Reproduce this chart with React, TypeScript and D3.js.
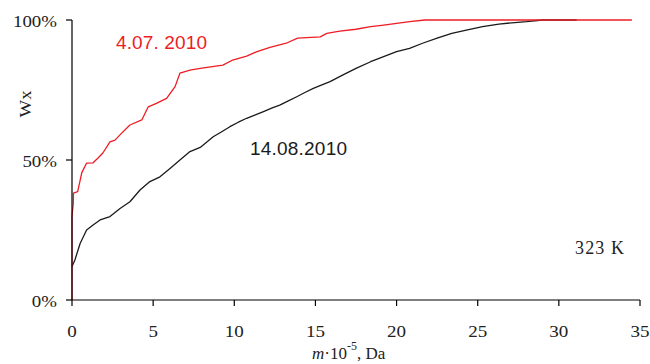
import React from "react";
import * as d3 from "d3";

const xTicks = [0, 5, 10, 15, 20, 25, 30, 35];
const yTicks = [0, 50, 100];
const yTickLabels = ["0%", "50%", "100%"];

// 4.07.2010 (red)
const redMass = [0, 0, 0.08, 0.09, 0.35, 0.6, 0.9, 1.3, 1.62, 1.9, 2.34, 2.65, 3.06, 3.57, 4.3, 4.7, 5.2, 5.83, 6.35, 6.65, 7.27, 7.9, 9.3, 9.9, 10.76, 11.4, 12.2, 13.2, 13.9, 15.3, 15.7, 16.5, 17.5, 18.4, 19.2, 20.0, 20.8, 21.75, 34.5];
const redW = [0, 29.8, 34.6, 38.2, 38.7, 45.4, 48.9, 49.0, 50.8, 52.5, 56.5, 57.1, 59.6, 62.5, 64.3, 69.0, 70.2, 72.0, 76.2, 81.0, 82.1, 82.7, 83.9, 85.7, 87.1, 88.7, 90.2, 91.7, 93.5, 94.0, 95.2, 96.0, 96.7, 97.6, 98.2, 98.8, 99.4, 100, 100];

// 14.08.2010 (black)
const blackMass = [0, 0.18, 0.5, 0.9, 1.3, 1.73, 2.34, 2.96, 3.57, 4.19, 4.8, 5.42, 6.04, 6.65, 7.27, 7.9, 8.7, 9.2, 9.73, 10.25, 10.76, 11.3, 11.8, 12.3, 12.8, 13.3, 13.85, 14.35, 14.87, 15.4, 15.9, 16.7, 17.5, 18.4, 19.2, 20.0, 20.8, 21.6, 22.5, 23.4, 24.3, 25.3, 26.3, 27.1, 28.0, 29.0, 31.1];
const blackW = [12.0, 14.3, 20.2, 25.0, 26.8, 28.6, 29.8, 32.7, 35.1, 39.3, 42.3, 44.0, 47.0, 50.0, 53.0, 54.5, 58.3, 60.0, 61.9, 63.5, 64.9, 66.1, 67.3, 68.5, 69.6, 71.0, 72.6, 74.1, 75.6, 76.8, 78.0, 80.4, 82.7, 85.1, 86.9, 88.7, 89.9, 91.7, 93.5, 95.2, 96.4, 97.6, 98.5, 99.0, 99.4, 100, 100];

export default function App() {
  const x = d3.scaleLinear().domain([0, 35]).range([72, 640]);
  const y = d3.scaleLinear().domain([0, 100]).range([300, 20]);
  const line = d3
    .line<[number, number]>()
    .x((d) => x(d[0]))
    .y((d) => y(d[1]))
    .curve(d3.curveLinear);
  const redPts = redMass.map((m, i) => [m, redW[i]] as [number, number]);
  const blackPts = blackMass.map((m, i) => [m, blackW[i]] as [number, number]);
  const serif = "'Liberation Serif', 'Times New Roman', serif";
  const sans = "'Liberation Sans', Arial, sans-serif";

  return (
    <svg
      width={650}
      height={364}
      style={{ position: "absolute", left: 0, top: 0, background: "#fff" }}
    >
      <rect width={650} height={364} fill="#fff" />
      <path d={line(blackPts) || ""} fill="none" stroke="#1a1a1a" strokeWidth={1.3} strokeLinejoin="round" />
      <path d={line(redPts) || ""} fill="none" stroke="#ee1c24" strokeWidth={1.3} strokeLinejoin="round" />
      <line x1={x(0)} x2={x(0)} y1={y(100)} y2={y(0)} stroke="#000" strokeWidth={1.2} />
      <line x1={x(0)} x2={x(35)} y1={y(0)} y2={y(0)} stroke="#000" strokeWidth={1.2} />
      {yTicks.map((t, i) => (
        <g key={"yt" + t}>
          <line x1={x(0) - 6} x2={x(0)} y1={y(t)} y2={y(t)} stroke="#000" strokeWidth={1.2} />
          <text
            transform={`translate(57,${y(t) + 6.5}) scale(1.18,1)`}
            textAnchor="end"
            fontFamily={serif}
            fontSize={16}
            fill="#222"
          >
            {yTickLabels[i]}
          </text>
        </g>
      ))}
      {xTicks.map((t) => (
        <g key={"xt" + t}>
          <line x1={x(t)} x2={x(t)} y1={y(0)} y2={y(0) + 6} stroke="#000" strokeWidth={1.2} />
          <text
            transform={`translate(${x(t)},336.5) scale(1.12,1)`}
            textAnchor="middle"
            fontFamily={serif}
            fontSize={17}
            fill="#222"
          >
            {t}
          </text>
        </g>
      ))}
      <text
        transform="translate(31,104) rotate(-90) scale(1.1,1)"
        textAnchor="middle"
        fontFamily={serif}
        fontSize={17}
        fill="#222"
      >
        Wx
      </text>
      <text x={312} y={359} fontFamily={serif} fontSize={17} fill="#222">
        <tspan fontStyle="italic">m</tspan>
        <tspan>{"\u00B710"}</tspan>
        <tspan dy={-9} fontSize={12}>-5</tspan>
        <tspan dy={9}>, Da</tspan>
      </text>
      <text x={116} y={48.5} fontFamily={sans} fontSize={19} fill="#ee1c24" textLength={91}>
        4.07. 2010
      </text>
      <text x={250} y={155} fontFamily={sans} fontSize={19} fill="#1a1a1a" textLength={97}>
        14.08.2010
      </text>
      <text x={575} y={254} fontFamily={serif} fontSize={18} fill="#222" textLength={49}>
        323 K
      </text>
    </svg>
  );
}
